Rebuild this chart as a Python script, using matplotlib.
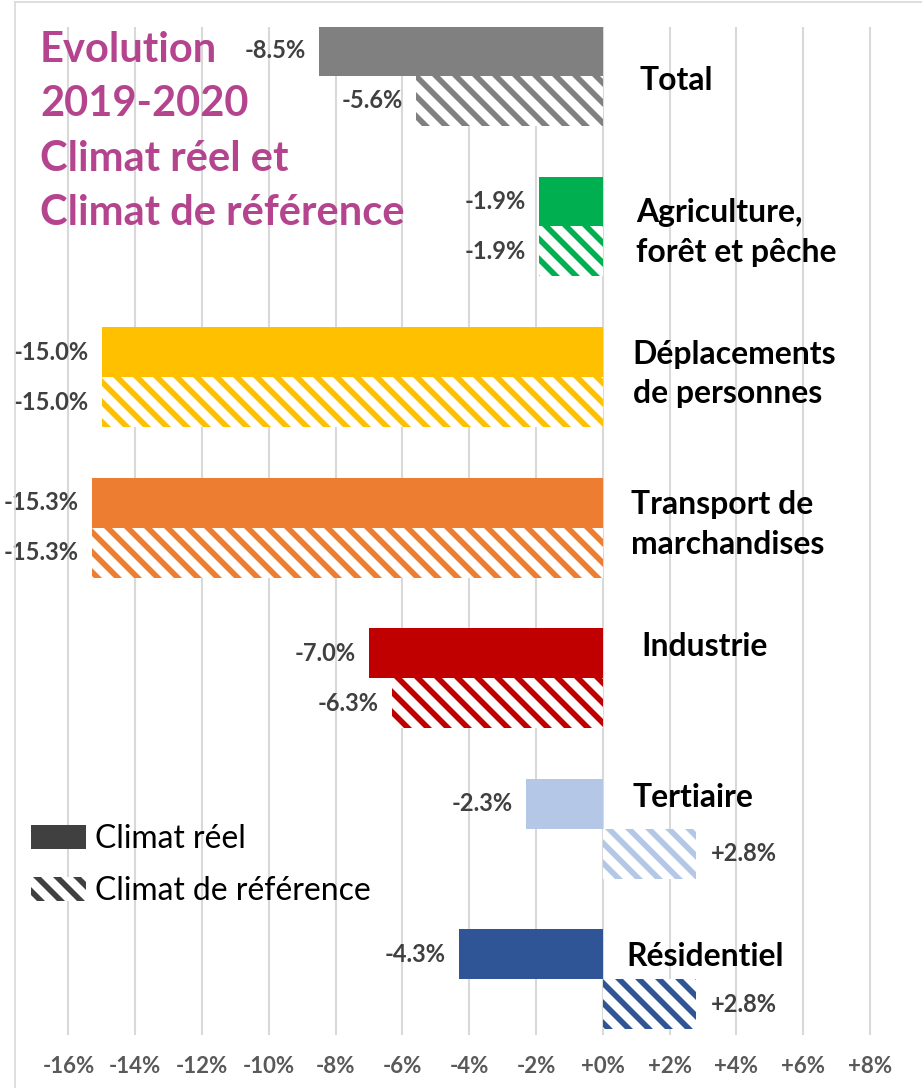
import matplotlib.pyplot as plt
from matplotlib.patches import Patch
from matplotlib.lines import Line2D
import numpy as np

categories = ["Total", "Agriculture,\nforêt et pêche", "Déplacements\nde personnes",
              "Transport de\nmarchandises", "Industrie", "Tertiaire", "Résidentiel"]
climat_reel = [-8.5, -1.9, -15.0, -15.3, -7.0, -2.3, -4.3]
climat_ref = [-5.6, -1.9, -15.0, -15.3, -6.3, 2.8, 2.8]
bar_colors = ["#808080", "#00B050", "#FFC000", "#ED7D31", "#C00000", "#B4C7E7", "#2F5597"]
xticks = list(range(-16, 10, 2))

# where the category names sit (x in %, y offset in category units)
label_x = [1.1, 1.0, 0.9, 0.85, 1.15, 0.9, 0.72]
label_dy = [0.03, 0.04, -0.02, -0.02, -0.21, -0.21, -0.15]

# dpi 120 so the '\\\\' hatch gets the ~20px stripe period of the original
DPI = 120
k = 100 / DPI  # font sizes below are thought out at 100 dpi

plt.rcParams['font.family'] = ['Lato', 'DejaVu Sans']
plt.rcParams['hatch.linewidth'] = 3.4

W, H = 922, 1088
fig = plt.figure(figsize=(W / DPI, H / DPI), dpi=DPI)
ax = fig.add_axes([15 / W, 1 - 1035 / H, 900 / W, 1008 / H])

bar_h = 0.332
y = np.arange(len(categories))
ax.barh(y - bar_h / 2, climat_reel, height=bar_h, color=bar_colors, zorder=2)
ax.barh(y + bar_h / 2, climat_ref, height=bar_h, color="white", edgecolor=bar_colors,
        hatch="\\\\", linewidth=0, zorder=2)

for i in range(len(categories)):
    for val, yy in ((climat_reel[i], y[i] - bar_h / 2), (climat_ref[i], y[i] + bar_h / 2)):
        txt = f"{val:+.1f}%"
        if val < 0:
            ax.text(val - 0.4, yy, txt, ha="right", va="center", fontsize=17 * k,
                    fontweight="bold", color="#404040")
        else:
            ax.text(val + 0.45, yy, txt, ha="left", va="center", fontsize=17 * k,
                    fontweight="bold", color="#404040")
    ax.text(label_x[i], y[i] + label_dy[i], categories[i], ha="left", va="center",
            fontsize=23 * k, fontweight="bold", color="black", linespacing=1.45)

ax.set_xlim(-17.6, 9.35)
ax.set_ylim(6.37, -0.325)
ax.set_xticks(xticks)
ax.set_xticklabels([f"{t:+d}%" for t in xticks], fontsize=16 * k, fontweight="bold",
                   color="#595959")
ax.tick_params(axis="x", length=0, pad=15 * k)
ax.set_yticks([])
ax.grid(axis="x", color="#D9D9D9", linewidth=1.5 * k, zorder=0)
ax.set_axisbelow(True)
for s in ax.spines.values():
    s.set_visible(False)

fig.add_artist(Line2D([15 / W, 15 / W], [0, 1 - 2 / H], color="#D9D9D9", lw=1.2 * k))
fig.add_artist(Line2D([15 / W, 1], [1 - 2 / H, 1 - 2 / H], color="#D9D9D9", lw=1.2 * k))

title_lines = ["Evolution", "2019-2020", "Climat réel et", "Climat de référence"]
for n, line in enumerate(title_lines):
    fig.text(40 / W, 1 - (62 + 54.3 * n) / H, line, ha="left", va="baseline",
             fontsize=30 * k, fontweight="bold", color="#B5448E")

handles = [Patch(facecolor="#404040", edgecolor="#404040", linewidth=0),
           Patch(facecolor="white", edgecolor="#404040", hatch="\\\\", linewidth=0)]
ax.legend(handles, ["Climat réel", "Climat de référence"], loc="upper left",
          bbox_to_anchor=(18 / W, 1 - 811 / H), bbox_transform=fig.transFigure,
          frameon=False, fontsize=23 * k, handlelength=1.72, handleheight=0.78,
          handletextpad=0.3, labelspacing=0.7, borderaxespad=0)

fig.savefig("out.png", dpi=DPI)
